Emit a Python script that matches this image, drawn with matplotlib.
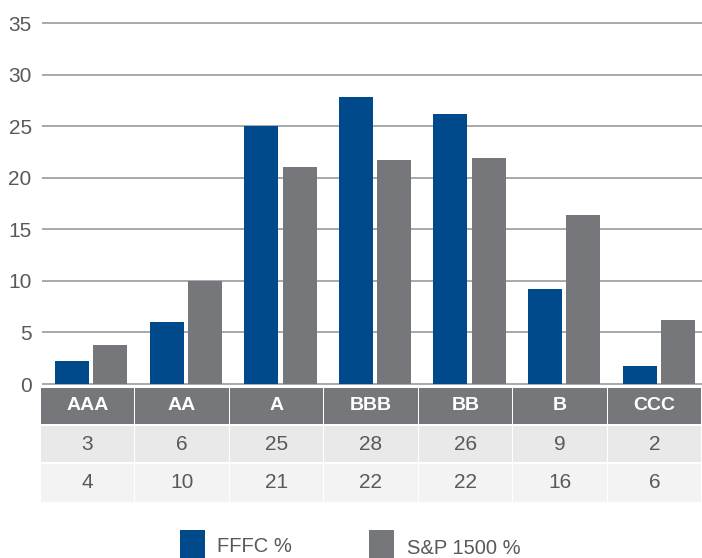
import matplotlib
matplotlib.use("Agg")
import matplotlib.pyplot as plt
from matplotlib.patches import Rectangle

plt.rcParams['font.family'] = ['Liberation Sans', 'DejaVu Sans']

categories = ["AAA", "AA", "A", "BBB", "BB", "B", "CCC"]
fffc = [2.2, 6.0, 25.0, 27.8, 26.2, 9.2, 1.7]
sp1500 = [3.8, 10.0, 21.0, 21.7, 21.9, 16.4, 6.2]
fffc_labels = ["3", "6", "25", "28", "26", "9", "2"]
sp_labels = ["4", "10", "21", "22", "22", "16", "6"]
yticks = [0, 5, 10, 15, 20, 25, 30, 35]

BLUE = "#004a8c"
GRAY = "#76777b"
TXT = "#58595b"

W, H = 702, 558
fig = plt.figure(figsize=(W / 100, H / 100), dpi=100)

def px_axes(x0, y0, x1, y1):
    return fig.add_axes([x0 / W, 1 - y1 / H, (x1 - x0) / W, (y1 - y0) / H])

# main chart
ax = px_axes(40, 23, 702, 384)
ax.set_xlim(-0.5, len(categories) - 0.5)
ax.set_ylim(0, 35)
for t in yticks:
    ax.axhline(t, xmin=3 / 662, xmax=1, color="#a7a8aa", lw=1.4, zorder=0, clip_on=False)
x = list(range(len(categories)))
bw = 0.36
ax.bar([i - 0.16 for i in x], fffc, width=bw, color=BLUE, zorder=2)
ax.bar([i + 0.245 for i in x], sp1500, width=bw, color=GRAY, zorder=2)
for s in ax.spines.values():
    s.set_visible(False)
ax.set_xticks([])
ax.set_yticks(yticks)
ax.set_yticklabels([str(t) for t in yticks], fontsize=15, color=TXT)
ax.tick_params(axis="y", length=0, pad=6)

# table
tax = px_axes(40, 388, 702, 502)
tax.set_xlim(-0.5, len(categories) - 0.5)
tax.set_ylim(0, 114)
tax.axis("off")
rows = [(78, 114, GRAY), (40, 76, "#e9e9ea"), (0, 38, "#f3f3f4")]
for i, cat in enumerate(categories):
    for (y0, y1, col) in rows:
        tax.add_patch(Rectangle((i - 0.5 + 0.006, y0), 1 - 0.012, y1 - y0, color=col, lw=0))
    tax.text(i, 96, cat, ha="center", va="center", color="white", fontsize=14, fontweight="bold")
    tax.text(i, 58, fffc_labels[i], ha="center", va="center", color=TXT, fontsize=15)
    tax.text(i, 19, sp_labels[i], ha="center", va="center", color=TXT, fontsize=15)

# legend
fig.patches.append(Rectangle((180 / W, 0), 25 / W, 28 / H, transform=fig.transFigure, color=BLUE, lw=0))
fig.text(217 / W, 1 - 546 / H, "FFFC %", fontsize=14.5, color=TXT, va="center", ha="left")
fig.patches.append(Rectangle((369 / W, 0), 25 / W, 28 / H, transform=fig.transFigure, color=GRAY, lw=0))
fig.text(407 / W, 1 - 548 / H, "S&P 1500 %", fontsize=14.5, color=TXT, va="center", ha="left")

fig.savefig("out.png", dpi=100)
